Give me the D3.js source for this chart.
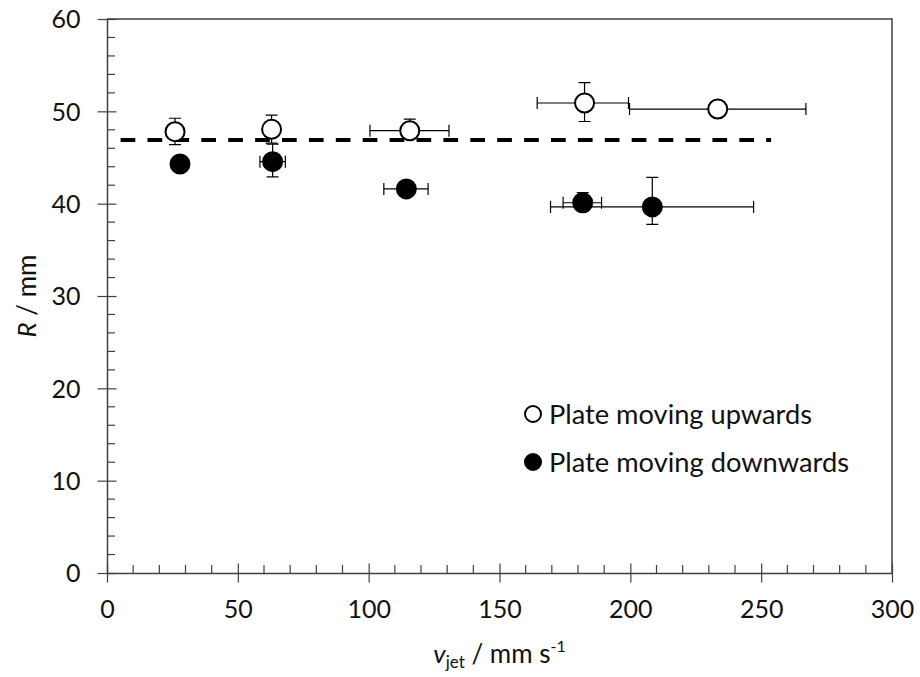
<!DOCTYPE html>
<html>
<head>
<meta charset="utf-8">
<script src="https://cdn.jsdelivr.net/npm/d3@7"></script>
<style>
  html, body { margin: 0; padding: 0; background: #fff; }
  svg { display: block; }
  text { font-family: Lato, "Open Sans", sans-serif; fill: #111; }
</style>
</head>
<body>
<svg id="chart" width="920" height="677"></svg>
<script>
// ---- data ----
const upV      = [26.0, 62.9, 115.7, 182.5, 233.4];
const upR      = [47.8, 48.05, 47.9, 50.9, 50.25];
const upXerrM  = [1.5, 1.5, 15.2, 18.1, 33.7];
const upXerrP  = [1.5, 1.5, 15.0, 16.8, 33.7];
const upYerrM  = [1.4, 1.5, 0.5, 2.0, 0.8];
const upYerrP  = [1.45, 1.55, 1.25, 2.2, 0.8];

const downV     = [27.9, 63.3, 114.4, 181.8, 208.4];
const downR     = [44.3, 44.55, 41.6, 40.1, 39.65];
const downXerrM = [1.5, 4.85, 8.6, 7.5, 38.9];
const downXerrP = [1.5, 4.85, 8.3, 7.2, 38.7];
const downYerrM = [0.8, 1.65, 0.8, 0.9, 1.9];
const downYerrP = [0.8, 1.9, 0.8, 1.1, 3.2];

const refLineV = [5.2, 253.8];
const refLineR = [46.9, 46.9];

const xTicks = [0, 50, 100, 150, 200, 250, 300];
const yTicks = [0, 10, 20, 30, 40, 50, 60];
const legendLabels = ["Plate moving upwards", "Plate moving downwards"];

// ---- layout ----
const svg = d3.select("#chart");
const x = d3.scaleLinear().domain([0, 300]).range([107, 892]);
const y = d3.scaleLinear().domain([0, 60]).range([573, 19]);
const axisColor = "#404040";

// frame (top + right border)
svg.append("path")
  .attr("d", `M${x(0)},${y(60)}H${x(300)}V${y(0)}`)
  .attr("fill", "none").attr("stroke", axisColor).attr("stroke-width", 1.5);

// minor ticks
const xMinor = d3.range(0, 301, 10).filter(v => v % 50 !== 0);
const yMinor = d3.range(0, 61, 2).filter(v => v % 10 !== 0);
svg.append("g").selectAll("line").data(xMinor).join("line")
  .attr("x1", d => x(d)).attr("x2", d => x(d))
  .attr("y1", y(0)).attr("y2", y(0) - 8)
  .attr("stroke", axisColor).attr("stroke-width", 1.2);
svg.append("g").selectAll("line").data(yMinor).join("line")
  .attr("x1", x(0)).attr("x2", x(0) + 8)
  .attr("y1", d => y(d)).attr("y2", d => y(d))
  .attr("stroke", axisColor).attr("stroke-width", 1.2);

// axes (major ticks crossing)
const xAxis = d3.axisBottom(x).tickValues(xTicks).tickSizeInner(9.5).tickSizeOuter(0).tickPadding(12);
const gx = svg.append("g").attr("transform", `translate(0,${y(0)})`).call(xAxis);
gx.selectAll(".tick line").attr("y1", -9.5);
const yAxis = d3.axisLeft(y).tickValues(yTicks).tickSizeInner(9.5).tickSizeOuter(0).tickPadding(17);
const gy = svg.append("g").attr("transform", `translate(${x(0)},0)`).call(yAxis);
gy.selectAll(".tick line").attr("x1", 9.5);
[gx, gy].forEach(g => {
  g.select(".domain").attr("stroke", axisColor).attr("stroke-width", 1.5);
  g.selectAll(".tick line").attr("stroke", axisColor).attr("stroke-width", 1.2);
  g.selectAll(".tick text").attr("font-family", "Lato, sans-serif").attr("font-size", 25).attr("fill", "#111");
});
gx.selectAll(".tick text").attr("dy", 0).attr("y", 45);
gy.selectAll(".tick text").attr("dy", "0.35em");

// axis titles
const yt = svg.append("text")
  .attr("transform", `translate(36,296) rotate(-90)`)
  .attr("text-anchor", "middle").attr("font-size", 26);
yt.append("tspan").attr("font-style", "italic").text("R");
yt.append("tspan").text(" / mm");

const xt = svg.append("text")
  .attr("x", x(150)).attr("y", 663)
  .attr("text-anchor", "middle").attr("font-size", 26);
xt.append("tspan").attr("font-style", "italic").text("v");
xt.append("tspan").attr("font-size", 17).attr("dy", 5).text("jet");
xt.append("tspan").attr("dy", -5).text(" / mm s");
xt.append("tspan").attr("font-size", 16).attr("dy", -11).text("-1");

// dashed reference line
svg.append("line")
  .attr("x1", x(refLineV[0])).attr("x2", x(refLineV[1]))
  .attr("y1", y(refLineR[0])).attr("y2", y(refLineR[1]))
  .attr("stroke", "#000").attr("stroke-width", 4)
  .attr("stroke-dasharray", "14.7,12.2");

// error bars + points
function series(V, R, xm, xp, ym, yp, fill) {
  const data = V.map((v, i) => ({v, r: R[i], xm: xm[i], xp: xp[i], ym: ym[i], yp: yp[i]}));
  const g = svg.append("g");
  const cap = 6;
  const eb = g.append("g").attr("stroke", "#000").attr("stroke-width", 1.2).attr("fill", "none");
  data.forEach(d => {
    const cx = x(d.v), cy = y(d.r);
    const xl = x(d.v - d.xm), xr = x(d.v + d.xp);
    const yt = y(d.r + d.yp), yb = y(d.r - d.ym);
    eb.append("path").attr("d",
      `M${xl},${cy}H${xr}M${xl},${cy-cap}V${cy+cap}M${xr},${cy-cap}V${cy+cap}` +
      `M${cx},${yt}V${yb}M${cx-cap},${yt}H${cx+cap}M${cx-cap},${yb}H${cx+cap}`);
  });
  g.selectAll("circle").data(data).join("circle")
    .attr("cx", d => x(d.v)).attr("cy", d => y(d.r)).attr("r", 9.5)
    .attr("fill", fill).attr("stroke", "#000").attr("stroke-width", 2);
}
series(upV, upR, upXerrM, upXerrP, upYerrM, upYerrP, "#fff");
series(downV, downR, downXerrM, downXerrP, downYerrM, downYerrP, "#000");

// legend
const lg = svg.append("g");
const items = [{fill: "#fff", cy: 414, ty: 423.5}, {fill: "#000", cy: 462, ty: 471.5}];
items.forEach((it, i) => {
  lg.append("circle").attr("cx", 533).attr("cy", it.cy).attr("r", 8)
    .attr("fill", it.fill).attr("stroke", "#000").attr("stroke-width", 2);
  lg.append("text").attr("x", 549).attr("y", it.ty).attr("font-size", 27.5)
    .attr("textLength", i === 0 ? 263 : 300).attr("lengthAdjust", "spacingAndGlyphs")
    .text(legendLabels[i]);
});
</script>
</body>
</html>
